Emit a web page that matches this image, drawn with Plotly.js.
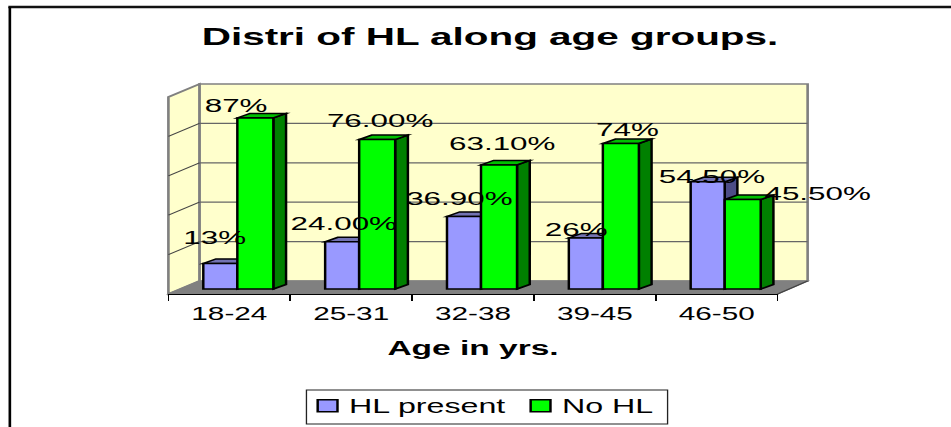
<!DOCTYPE html>
<html>
<head>
<meta charset="utf-8">
<script src="https://cdn.plot.ly/plotly-3.0.1.min.js"></script>
<style>
html,body{margin:0;padding:0;background:#fff;overflow:hidden;width:951px;height:427px}
#chart{width:576px;height:427px;transform:scaleX(1.651);transform-origin:0 0}
</style>
</head>
<body>
<div id="chart"></div>
<script>
// Data
const categories = ['18-24','25-31','32-38','39-45','46-50'];
const hlPresent = [13, 24, 36.9, 26, 54.5];
const noHL = [87, 76, 63.1, 74, 45.5];
const hlLabels = ['13%','24.00%','36.90%','26%','54.50%'];
const noLabels = ['87%','76.00%','63.10%','74%','45.50%'];
const gridValues = [20, 40, 60, 80];

// Hand-placed label nudges (reference pixels from each bar's top centre)
const hlNudgeX = [-6, 2, -4, -9, 4];
const hlNudgeY = [26, 18, 18, 8, 5];
const noNudgeX = [-19, 4, 4, 7, 76];
const noNudgeY = [12, 19, 21, 14, 6];

// Geometry
const K = 951 / 576;
const L = 168, R = 777, T = 84, B = 294;
const catPx = (R - L) / 5, unitPx = 1.966;
const zeroPy = 289;
const yMin = (zeroPy - B) / unitPx, yMax = (zeroPy - T) / unitPx;
const depthX = 12.7 / catPx, depthV = 4.5 / unitPx;
const hlOff = -0.2135, hlW = 0.279, noOff = 0.0657, noW = 0.2956;
const PX = x => (x - L) / (R - L), PY = y => (B - y) / (B - T);

const paperShape = (pts, fill, color, w) => ({
  type: 'path', xref: 'paper', yref: 'paper', layer: 'below',
  path: 'M' + pts.map(p => PX(p[0]) + ',' + PY(p[1])).join('L') + 'Z',
  fillcolor: fill, line: {color: color, width: w}
});
const paperLine = (x0, y0, x1, y1, color, w, layer) => ({
  type: 'line', xref: 'paper', yref: 'paper', layer: layer || 'below',
  x0: PX(x0), y0: PY(y0), x1: PX(x1), y1: PY(y1), line: {color: color, width: w}
});
const shapes = [
  paperLine(8, 7, 951, 7, '#111', 2.5, 'above'),
  paperLine(9.5, 7, 9.5, 427, '#000', 1.6, 'above'),
  paperShape([[199,84],[807,84],[807,281],[199,281]], '#FFFFCC', '#808080', 1.6),
  paperShape([[168,97],[199,84],[199,281],[168,294]], '#FFFFCC', '#808080', 1.6),
  paperShape([[168,294],[199,281],[807,281],[777,294]], '#808080', '#808080', 1),
  paperShape([[306,390],[667,390],[667,424],[306,424]], '#fff', '#222', 0.8)
];
gridValues.forEach(v => {
  const yb = 281 - 1.97 * v;
  shapes.push(paperLine(199, yb, 807, yb, '#666', 1.3));
  shapes.push(paperLine(168, yb + 13, 199, yb, '#444', 1));
});
shapes.push(paperLine(777, 294, 807, 281, '#444', 1));

const face = (pts, fill) => ({
  type: 'path', xref: 'x', yref: 'y', layer: 'below',
  path: 'M' + pts.map(p => p[0] + ',' + p[1]).join('L') + 'Z',
  fillcolor: fill, line: {color: '#000', width: 1.5}
});
function addFaces(values, off, w, topColor, sideColor) {
  values.forEach((v, i) => {
    const x0 = i + off, x1 = x0 + w;
    shapes.push(face([[x1, 0], [x1 + depthX, depthV], [x1 + depthX, v + depthV], [x1, v]], sideColor));
    shapes.push(face([[x0, v], [x1, v], [x1 + depthX, v + depthV], [x0 + depthX, v + depthV]], topColor));
  });
}
addFaces(hlPresent, hlOff, hlW, '#7373B3', '#4D4D86');
addFaces(noHL, noOff, noW, '#00BF00', '#008000');

const annotations = [];
function addLabels(values, labels, off, w, nx, ny) {
  values.forEach((v, i) => annotations.push({
    x: i + off + w / 2, y: v, xref: 'x', yref: 'y', text: labels[i], showarrow: false,
    xanchor: 'center', yanchor: 'middle', xshift: nx[i] / K, yshift: ny[i],
    font: {family: 'Liberation Sans', size: 19, color: '#000'}
  }));
}
addLabels(hlPresent, hlLabels, hlOff, hlW, hlNudgeX, hlNudgeY);
addLabels(noHL, noLabels, noOff, noW, noNudgeX, noNudgeY);

const xs = categories.map((c, i) => i);
const barTrace = (name, values, off, w, color) => ({
  type: 'bar', name: name, x: xs, y: values, offset: off, width: w,
  marker: {color: color, line: {color: '#000', width: 1.5}}, hoverinfo: 'skip'
});
const data = [
  barTrace('HL present', hlPresent, hlOff, hlW, '#9999FF'),
  barTrace('No HL', noHL, noOff, noW, '#00FF00')
];
const layout = {
  width: 576, height: 427,
  margin: {l: L / K, r: (951 - R) / K, t: T, b: 427 - B, pad: 0},
  paper_bgcolor: '#fff', plot_bgcolor: 'rgba(0,0,0,0)',
  barmode: 'overlay', font: {family: 'Liberation Sans', color: '#000'},
  title: {text: '<b>Distri of HL along age groups.</b>', x: 490 / 951, y: 1 - 36 / 427,
    xref: 'container', yref: 'container', xanchor: 'center', yanchor: 'middle',
    font: {family: 'Liberation Sans', size: 24.5, color: '#000'}},
  xaxis: {type: 'linear', range: [-0.5, 4.5], tickmode: 'array', tickvals: xs, ticktext: categories,
    ticks: '', showgrid: false, zeroline: false, showline: true, linecolor: '#000', linewidth: 1,
    ticklabelstandoff: 3,
    tickfont: {family: 'Liberation Sans', size: 18},
    minor: {tickmode: 'array', tickvals: [-0.5, 0.5, 1.5, 2.5, 3.5, 4.5], ticks: 'outside', ticklen: 6, tickcolor: '#000', tickwidth: 0.7, showgrid: false},
    title: {text: '<b>Age in yrs.</b>', standoff: 18, font: {family: 'Liberation Sans', size: 20.3}}},
  yaxis: {range: [yMin, yMax], showticklabels: false, ticks: '', showgrid: false, zeroline: false, showline: false},
  legend: {orientation: 'h', xref: 'container', yref: 'container', x: 496 / 951, y: 1 - 406 / 427, xanchor: 'center', yanchor: 'middle',
    borderwidth: 0, bgcolor: 'rgba(0,0,0,0)', font: {family: 'Liberation Sans', size: 19.5},
    entrywidth: 84, entrywidthmode: 'pixels', traceorder: 'normal'},
  shapes: shapes, annotations: annotations
};
Plotly.newPlot('chart', data, layout, {displayModeBar: false, responsive: false}).then(gd => {
  gd.querySelectorAll('.legend .legendpoints').forEach(g => g.setAttribute('transform', 'translate(7,0)'));
});
</script>
</body>
</html>
